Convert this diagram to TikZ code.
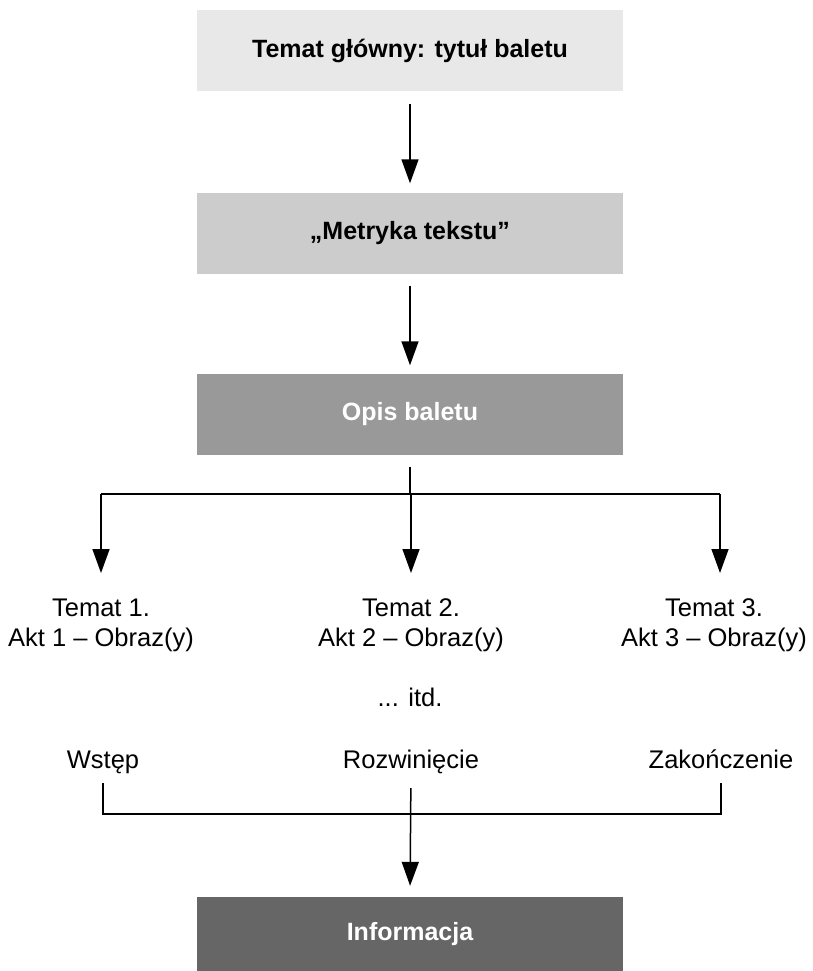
\documentclass[tikz,border=0pt]{standalone}
\usepackage{fontspec}
\setmainfont{Liberation Sans}
\usetikzlibrary{arrows.meta}

\begin{document}
\begin{tikzpicture}[x=1pt, y=-1pt,
    box/.style={minimum width=426pt, minimum height=81pt, inner sep=0pt,
        font=\fontsize{25}{29}\selectfont\bfseries},
    label/.style={align=center, inner sep=0pt,
        font=\fontsize{25.5}{30}\selectfont},
    flow/.style={line width=1.5pt, -{Triangle[width=17pt, length=24pt]}},
    link/.style={line width=1.5pt}]
    \useasboundingbox (0,0) rectangle (812,971);

    % Main boxes
    \node[box, fill=black!9] (tytul) at (410,50.5) {Temat główny: tytuł baletu};
    \node[box, fill=black!20] (metryka) at (410,233) {„Metryka tekstu”};
    \node[box, fill=black!40, text=white] (opis) at (410,414) {Opis baletu};
    \node[box, fill=black!60, text=white, minimum height=74pt] (info) at (410,934) {Informacja};

    % Arrows between boxes
    \draw[flow, shorten <=13pt, shorten >=9pt] (tytul) -- (metryka);
    \draw[flow, shorten <=12pt, shorten >=8pt] (metryka) -- (opis);

    % Themes
    \node[label] (temat1) at (101,625) {Temat 1.\\Akt 1 – Obraz(y)};
    \node[label] (temat2) at (411,625) {Temat 2.\\Akt 2 – Obraz(y)};
    \node[label] (temat3) at (714,625) {Temat 3.\\Akt 3 – Obraz(y)};
    \node[label, anchor=base] (itd) at (410,706) {... itd.};

    % Branch
    \coordinate (rozdz) at (410,494);
    \coordinate (cel) at (410,573);
    \coordinate (prawy) at (720,494);
    \draw[link, shorten <=12pt] (opis) -- (rozdz);
    \draw[link] (rozdz -| temat1) -- (prawy);
    \foreach \t in {temat1,temat2}
        \draw[flow] (rozdz -| \t) -- (cel -| \t);
    \draw[flow] (prawy) -- (cel -| prawy);

    % Parts
    \node[label, anchor=base] (wstep) at (103,768) {Wstęp};
    \node[label, anchor=base] (rozw) at (411,768) {Rozwinięcie};
    \node[label, anchor=base] (zak) at (721,768) {Zakończenie};

    % Bracket
    \coordinate (zbior) at (410,814);
    \coordinate (bok) at (410,783);
    \draw[link] (bok -| wstep) -- (zbior -| wstep)
        -- (zbior -| zak) -- (bok -| zak);
    \draw[flow, shorten <=20pt, shorten >=11pt] (rozw.base) -- (info.north);
\end{tikzpicture}
\end{document}
